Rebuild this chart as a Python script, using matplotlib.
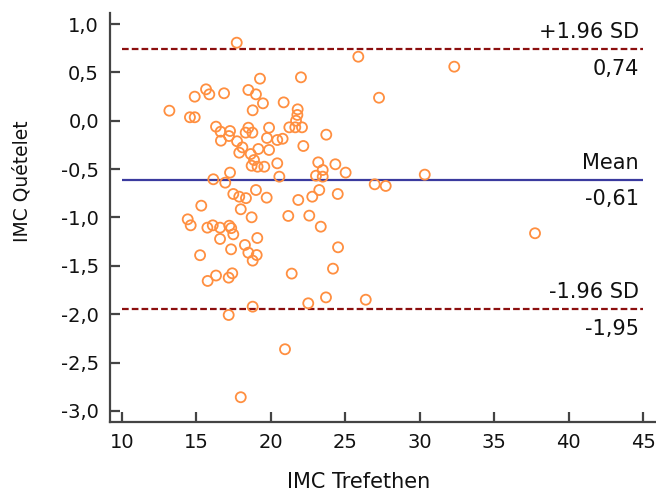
import matplotlib.pyplot as plt
from matplotlib.ticker import FuncFormatter, MultipleLocator

plt.rcParams['font.family'] = ['DejaVu Sans']

# IMC Trefethen (x) and difference IMC Quetelet (y)
trefethen = [
    17.72, 19.28, 22.03, 15.66, 15.88, 14.90, 16.87, 18.50, 19.01, 19.48,
    18.79, 20.87, 13.20, 14.58, 14.90, 21.81, 21.79, 21.70, 21.25, 21.65,
    22.10, 16.33, 16.64, 17.27, 16.66, 17.20, 17.74, 18.50, 18.32, 18.77,
    19.89, 19.75, 20.44, 20.80, 18.10, 17.89, 18.66, 19.17, 19.89, 22.19,
    25.88, 32.32, 27.27, 23.73, 18.88, 18.72, 19.12, 19.57, 20.44, 20.58,
    17.27, 16.15, 16.95, 17.49, 17.89, 18.34, 19.01, 19.73, 21.85, 15.34,
    17.99, 18.72, 21.18, 14.43, 14.63, 15.75, 16.11, 16.60, 17.22, 17.35,
    17.49, 16.60, 19.10, 18.27, 18.50, 19.06, 18.79, 17.34, 15.26, 21.41,
    16.33, 15.77, 17.18, 17.42, 18.79, 23.19, 24.34, 23.49, 23.04, 23.49,
    25.03, 30.34, 26.98, 27.72, 23.26, 22.79, 24.50, 22.59, 23.36, 24.52,
    24.18, 23.71, 22.52, 26.38, 37.74, 17.18, 20.96, 17.99,
]
quetelet = [
    0.807, 0.435, 0.449, 0.325, 0.273, 0.249, 0.284, 0.318, 0.273, 0.18,
    0.108, 0.19, 0.104, 0.036, 0.036, 0.118, 0.06, 0.0, -0.068, -0.068,
    -0.068, -0.061, -0.113, -0.106, -0.206, -0.158, -0.212, -0.072, -0.123, -0.123,
    -0.072, -0.178, -0.199, -0.186, -0.275, -0.33, -0.344, -0.292, -0.302, -0.261,
    0.662, 0.559, 0.238, -0.144, -0.406, -0.465, -0.475, -0.475, -0.44, -0.578,
    -0.536, -0.605, -0.64, -0.757, -0.785, -0.80, -0.716, -0.795, -0.819, -0.878,
    -0.915, -0.998, -0.984, -1.019, -1.081, -1.105, -1.081, -1.105, -1.085, -1.11,
    -1.174, -1.222, -1.212, -1.284, -1.364, -1.388, -1.446, -1.329, -1.39, -1.58,
    -1.60, -1.656, -1.622, -1.577, -1.922, -0.43, -0.45, -0.509, -0.568, -0.578,
    -0.536, -0.557, -0.657, -0.674, -0.716, -0.785, -0.757, -0.981, -1.095, -1.308,
    -1.529, -1.826, -1.887, -1.85, -1.163, -2.008, -2.362, -2.858,
]

mean_diff = -0.61
upper_loa = 0.74
lower_loa = -1.95
line_start, line_end = 10, 45

fig = plt.figure(figsize=(6.56, 4.92), dpi=100)
ax = fig.add_axes([0.1677, 0.1423, 0.8323, 0.8319])

ax.scatter(trefethen, quetelet, s=52, facecolors='none', edgecolors='#ff8f40',
           linewidths=1.3, zorder=3)

ax.hlines(mean_diff, line_start, line_end, colors='#3a3a9e', linewidth=1.6)
ax.hlines([upper_loa, lower_loa], line_start, line_end, colors='#8b0f0f',
          linewidth=1.6, linestyles=(0, (3, 1.4)))

# labels on the right end of the lines
tx = 44.7
for yv, top, bottom in [(upper_loa, '+1.96 SD', '0,74'),
                        (mean_diff, 'Mean', '-0,61'),
                        (lower_loa, '-1.96 SD', '-1,95')]:
    ax.annotate(top, (tx, yv), xytext=(0, 5), textcoords='offset points',
                ha='right', va='bottom', fontsize=15, color='#111111')
    ax.annotate(bottom, (tx, yv), xytext=(0, -7), textcoords='offset points',
                ha='right', va='top', fontsize=15, color='#111111')

ax.set_xlim(9.215, 45.86)
ax.set_ylim(-3.114, 1.117)
ax.xaxis.set_major_locator(MultipleLocator(5))
ax.yaxis.set_major_locator(MultipleLocator(0.5))
ax.yaxis.set_major_formatter(FuncFormatter(lambda v, p: ('%.1f' % v).replace('.', ',')))

for side in ['top', 'right']:
    ax.spines[side].set_visible(False)
for side in ['left', 'bottom']:
    ax.spines[side].set_linewidth(1.6)
    ax.spines[side].set_color('#444444')
ax.tick_params(direction='in', length=7, width=1.6, color='#444444',
               labelsize=14, pad=8, labelcolor='#111111')

ax.set_xlabel('IMC Trefethen', fontsize=15, color='#111111', labelpad=14, x=0.456)
ax.set_ylabel('IMC Quételet', fontsize=13.5, color='#111111', labelpad=21, y=0.589)

fig.savefig('out.png', dpi=100)
